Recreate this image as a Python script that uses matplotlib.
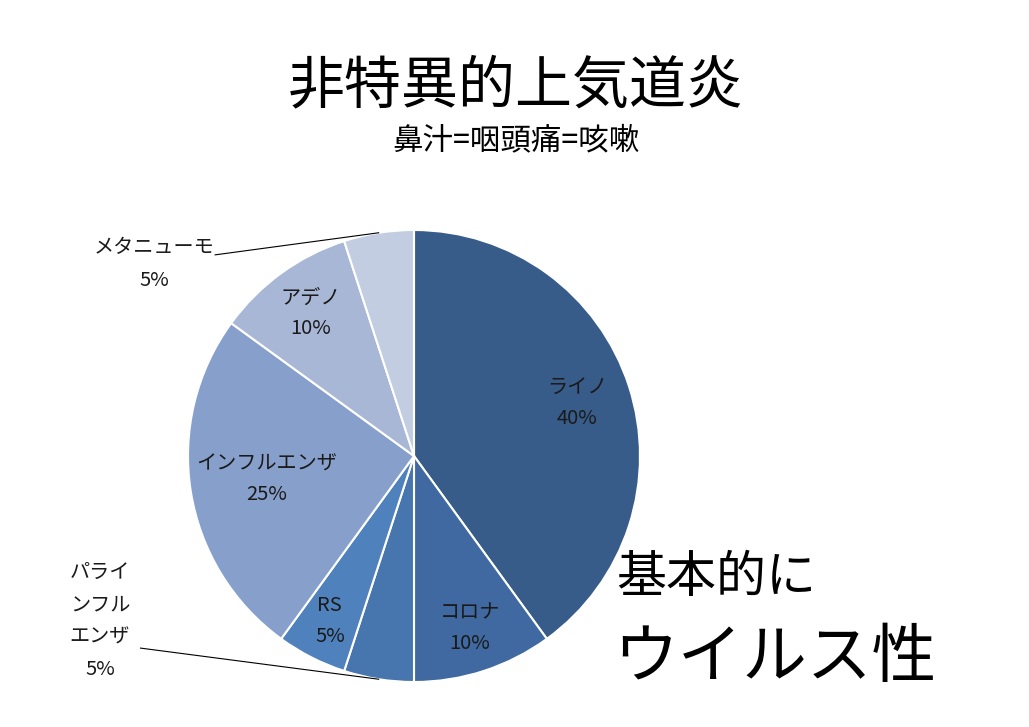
import matplotlib
matplotlib.use("Agg")
import matplotlib.pyplot as plt
import numpy as np

plt.rcParams['font.family'] = ['Noto Sans CJK JP', 'DejaVu Sans']

# data
names = ["ライノ", "コロナ", "パラ\nインフル\nエンザ", "RS", "インフルエンザ", "アデノ", "メタニューモ"]
label_text = ["ライノ", "コロナ", "パライ\nンフル\nエンザ", "RS", "インフルエンザ", "アデノ", "メタニューモ"]
shares = [40, 10, 5, 5, 25, 10, 5]
colors = ["#375C89", "#3F69A0", "#4775AD", "#4F81BD", "#87A0CB", "#A8B7D5", "#C3CDE2"]

title = "非特異的上気道炎"
subtitle = "鼻汁=咽頭痛=咳嗽"
note1 = "基本的に"
note2 = "ウイルス性"

# layout for labels: inside distance, or outside position
inside_dist = [0.76, 0.80, None, 0.82, 0.66, 0.78, None]
outside_pos = {2: (-1.39, -0.73), 6: (-1.15, 0.85)}
leader_start = {2: (-1.21, -0.85), 6: (-0.88, 0.89)}

fig = plt.figure(figsize=(10.29, 7.27), dpi=100)
fig.patch.set_facecolor("white")

ax = fig.add_axes([188 / 1029, (727 - 682) / 727, 452 / 1029, 452 / 727])
wedges, _ = ax.pie(shares, colors=colors, startangle=90, counterclock=False,
                   radius=1.0, wedgeprops=dict(edgecolor="white", linewidth=1.5))
ax.set_xlim(-1, 1)
ax.set_ylim(-1, 1)
ax.set_aspect("equal")
ax.axis("off")

for i, w in enumerate(wedges):
    mid = np.deg2rad((w.theta1 + w.theta2) / 2)
    txt = "%s\n%d%%" % (label_text[i], shares[i])
    if inside_dist[i] is not None:
        d = inside_dist[i]
        ax.text(d * np.cos(mid), d * np.sin(mid), txt, ha="center", va="center",
                fontsize=14.5, color="#1a1a1a", linespacing=1.62)
    else:
        x, y = outside_pos[i]
        ax.text(x, y, txt, ha="center", va="center", fontsize=14.5,
                color="#1a1a1a", linespacing=1.72)
        sx, sy = leader_start[i]
        ax.plot([sx, np.cos(mid)], [sy, np.sin(mid)], color="black",
                linewidth=0.8, clip_on=False)

fig.text(516 / 1029, 1 - 86 / 727, title, ha="center", va="center", fontsize=41)
fig.text(516 / 1029, 1 - 141 / 727, subtitle, ha="center", va="center", fontsize=22)
fig.text(616 / 1029, 1 - 578 / 727, note1, ha="left", va="center", fontsize=36)
fig.text(613 / 1029, 1 - 659 / 727, note2, ha="left", va="center", fontsize=46.5)

fig.savefig("out.png", dpi=100, facecolor="white")
